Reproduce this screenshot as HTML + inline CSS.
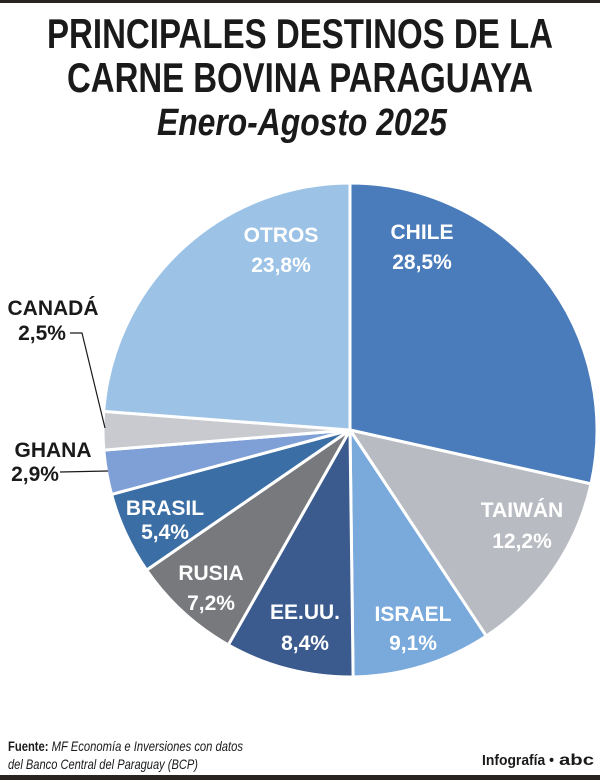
<!DOCTYPE html>
<html><head><meta charset="utf-8"><style>
html,body{margin:0;padding:0;background:#fff;}
svg{display:block;}
</style></head><body>
<svg id="s" width="600" height="780" viewBox="0 0 600 780" xmlns="http://www.w3.org/2000/svg" font-family="Liberation Sans, sans-serif">
<rect x="0" y="0" width="600" height="3" fill="#2a2420"/>
<text x="300" y="48" text-anchor="middle" font-size="42" font-weight="bold" fill="#1a1a1a" textLength="506" lengthAdjust="spacingAndGlyphs">PRINCIPALES DESTINOS DE LA</text>
<text x="300" y="92" text-anchor="middle" font-size="42" font-weight="bold" fill="#1a1a1a" textLength="466" lengthAdjust="spacingAndGlyphs">CARNE BOVINA PARAGUAYA</text>
<text x="302" y="135" text-anchor="middle" font-size="38" font-weight="bold" font-style="italic" fill="#1a1a1a" textLength="290" lengthAdjust="spacingAndGlyphs">Enero-Agosto 2025</text>
<g id="pie"></g>
<g font-size="21" font-weight="bold" fill="#fff" text-anchor="middle">
<text x="422" y="239">CHILE</text><text x="422" y="269">28,5%</text>
<text x="281" y="242">OTROS</text><text x="281" y="272">23,8%</text>
<text x="522" y="517">TAIWÁN</text><text x="522" y="548">12,2%</text>
<text x="413" y="621">ISRAEL</text><text x="413" y="650">9,1%</text>
<text x="305" y="619">EE.UU.</text><text x="305" y="650">8,4%</text>
<text x="211" y="580">RUSIA</text><text x="211" y="610">7,2%</text>
<text x="165" y="515">BRASIL</text><text x="165" y="539">5,4%</text>
</g>
<g font-size="21" font-weight="bold" fill="#1a1a1a" text-anchor="middle">
<text x="53" y="315">CANADÁ</text><text x="42" y="340">2,5%</text>
<text x="53" y="457">GHANA</text><text x="35" y="481">2,9%</text>
</g>
<polyline points="70,333 82,333 105,428" fill="none" stroke="#1a1a1a" stroke-width="1.2"/>
<line x1="60" y1="472" x2="108" y2="471" stroke="#1a1a1a" stroke-width="1.2"/>
<text x="8" y="751" font-size="14" fill="#1a1a1a" textLength="235" lengthAdjust="spacingAndGlyphs"><tspan font-weight="bold">Fuente: </tspan><tspan font-style="italic">MF Economía e Inversiones con datos</tspan></text>
<text x="8" y="769" font-size="14" font-style="italic" fill="#1a1a1a" textLength="190" lengthAdjust="spacingAndGlyphs">del Banco Central del Paraguay (BCP)</text>
<text x="482" y="765" font-size="15" font-weight="bold" fill="#1a1a1a" textLength="72" lengthAdjust="spacingAndGlyphs">Infografía •</text>
<text x="559" y="765" font-size="16" font-weight="bold" fill="#1a1a1a" textLength="35" lengthAdjust="spacingAndGlyphs">abc</text>
<rect x="0" y="775" width="600" height="5" fill="#2a2420"/>
</svg>
<script>
var d=[[28.5,"#4a7bba"],[12.2,"#b8bbc1"],[9.1,"#7aa9dc"],[8.4,"#3b5a8d"],[7.2,"#78797d"],[5.4,"#3a6ea4"],[2.9,"#7fa0d7"],[2.5,"#c8cacf"],[23.8,"#9cc2e6"]];
var cx=350,cy=430,r=247,a=0,g=document.getElementById("pie"),h="";
function pt(t){var rad=t*Math.PI/180;return[cx+r*Math.sin(rad),cy-r*Math.cos(rad)];}
d.forEach(function(e){var b=a+e[0]*3.6;var p=pt(a),q=pt(b);
h+='<path d="M'+cx+','+cy+'L'+p[0].toFixed(2)+','+p[1].toFixed(2)+'A'+r+','+r+' 0 '+((b-a)>180?1:0)+' 1 '+q[0].toFixed(2)+','+q[1].toFixed(2)+'Z" fill="'+e[1]+'" stroke="#fff" stroke-width="3" stroke-linejoin="round"/>';a=b;});
g.innerHTML=h;
</script>
</body></html>
